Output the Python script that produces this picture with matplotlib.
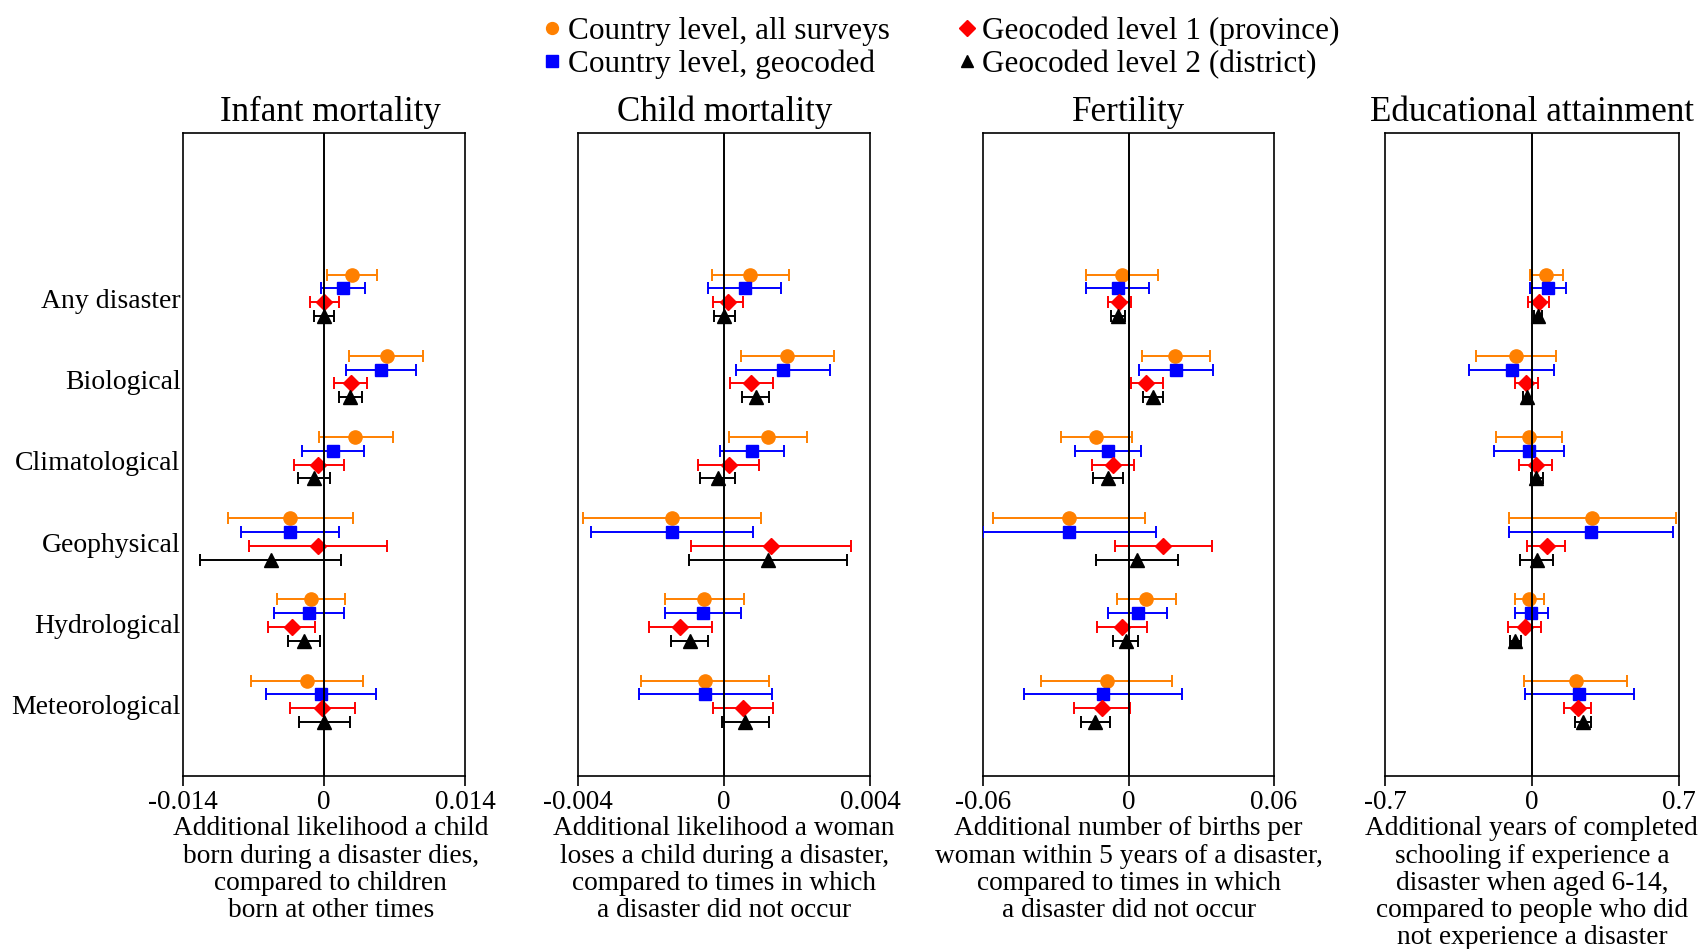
import numpy as np
import matplotlib
matplotlib.use('Agg')
import matplotlib.pyplot as plt
from matplotlib.lines import Line2D

plt.rcParams['font.family'] = ['Liberation Serif', 'DejaVu Serif']
plt.rcParams['axes.unicode_minus'] = False

#******************************************************************************************************
# data: rows = series (all surveys, geocoded, level 1, level 2), cols = categories
categories = ['Any disaster', 'Biological', 'Climatological', 'Geophysical', 'Hydrological', 'Meteorological']
series_names = ['Country level, all surveys', 'Country level, geocoded',
                'Geocoded level 1 (province)', 'Geocoded level 2 (district)']
panel_titles = ['Infant mortality', 'Child mortality', 'Fertility', 'Educational attainment']
panel_xlabels = ['Additional likelihood a child\nborn during a disaster dies,\ncompared to children\nborn at other times',
                 'Additional likelihood a woman\nloses a child during a disaster,\ncompared to times in which\na disaster did not occur',
                 'Additional number of births per\nwoman within 5 years of a disaster,\ncompared to times in which\na disaster did not occur',
                 'Additional years of completed\nschooling if experience a\ndisaster when aged 6-14,\ncompared to people who did\nnot experience a disaster']
panel_lims = [0.014, 0.004, 0.06, 0.7]
panel_ticklabels = [['-0.014', '0', '0.014'], ['-0.004', '0', '0.004'],
                    ['-0.06', '0', '0.06'], ['-0.7', '0', '0.7']]

infant_mid = [[0.0028, 0.0062, 0.0031, -0.0034, -0.0013, -0.0017],
              [0.0019, 0.0057, 0.0009, -0.0034, -0.0015, -0.0003],
              [0.0000, 0.0027, -0.0006, -0.0006, -0.0032, -0.0002],
              [0.0000, 0.0026, -0.0010, -0.0053, -0.0020, 0.0000]]
infant_lo = [[0.0003, 0.0025, -0.0005, -0.0096, -0.0047, -0.0073],
             [-0.0003, 0.0022, -0.0022, -0.0083, -0.0050, -0.0058],
             [-0.0014, 0.0010, -0.0030, -0.0075, -0.0056, -0.0034],
             [-0.0010, 0.0015, -0.0026, -0.0123, -0.0036, -0.0025]]
infant_hi = [[0.0053, 0.0098, 0.0068, 0.0029, 0.0021, 0.0039],
             [0.0041, 0.0091, 0.0040, 0.0015, 0.0020, 0.0052],
             [0.0015, 0.0043, 0.0020, 0.0062, -0.0009, 0.0031],
             [0.0010, 0.0038, 0.0006, 0.0017, -0.0004, 0.0026]]

child_mid = [[0.00072, 0.00173, 0.00121, -0.00143, -0.00055, -0.00052],
             [0.00056, 0.00162, 0.00076, -0.00143, -0.00058, -0.00052],
             [0.00011, 0.00075, 0.00012, 0.00128, -0.00120, 0.00051],
             [0.00000, 0.00086, -0.00018, 0.00121, -0.00095, 0.00058]]
child_lo = [[-0.00033, 0.00045, 0.00014, -0.00387, -0.00163, -0.00229],
            [-0.00043, 0.00033, -0.00011, -0.00364, -0.00161, -0.00233],
            [-0.00030, 0.00017, -0.00073, -0.00091, -0.00207, -0.00030],
            [-0.00027, 0.00048, -0.00066, -0.00097, -0.00147, -0.00005]]
child_hi = [[0.00178, 0.00302, 0.00227, 0.00102, 0.00054, 0.00124],
            [0.00155, 0.00291, 0.00163, 0.00080, 0.00046, 0.00130],
            [0.00051, 0.00133, 0.00096, 0.00348, -0.00034, 0.00133],
            [0.00030, 0.00124, 0.00030, 0.00337, -0.00044, 0.00122]]

fert_mid = [[-0.0026, 0.0193, -0.0133, -0.0246, 0.0072, -0.0091],
            [-0.0045, 0.0195, -0.0087, -0.0246, 0.0037, -0.0107],
            [-0.0039, 0.0073, -0.0065, 0.0143, -0.0028, -0.0110],
            [-0.0045, 0.0100, -0.0087, 0.0034, -0.0012, -0.0138]]
fert_lo = [[-0.0175, 0.0054, -0.0281, -0.0559, -0.0047, -0.0362],
           [-0.0176, 0.0044, -0.0222, -0.0600, -0.0084, -0.0432],
           [-0.0087, 0.0008, -0.0151, -0.0056, -0.0131, -0.0226],
           [-0.0074, 0.0061, -0.0149, -0.0135, -0.0063, -0.0198]]
fert_hi = [[0.0121, 0.0334, 0.0014, 0.0067, 0.0194, 0.0180],
           [0.0085, 0.0347, 0.0050, 0.0111, 0.0160, 0.0222],
           [0.0008, 0.0142, 0.0022, 0.0343, 0.0077, 0.0006],
           [-0.0017, 0.0142, -0.0025, 0.0202, 0.0039, -0.0076]]

edu_mid = [[0.068, -0.075, -0.014, 0.288, -0.013, 0.210],
           [0.075, -0.095, -0.013, 0.283, -0.003, 0.227],
           [0.033, -0.027, 0.019, 0.070, -0.035, 0.221],
           [0.027, -0.021, 0.021, 0.024, -0.078, 0.245]]
edu_lo = [[-0.008, -0.265, -0.170, -0.110, -0.081, -0.037],
          [-0.010, -0.299, -0.180, -0.108, -0.078, -0.032],
          [-0.019, -0.081, -0.059, -0.022, -0.116, 0.154],
          [0.008, -0.041, -0.005, -0.056, -0.102, 0.207]]
edu_hi = [[0.148, 0.116, 0.145, 0.685, 0.059, 0.454],
          [0.162, 0.106, 0.154, 0.672, 0.076, 0.486],
          [0.083, 0.029, 0.097, 0.160, 0.044, 0.284],
          [0.049, 0.003, 0.052, 0.103, -0.051, 0.284]]

#******************************************************************************************************
colors = ['#ff8000', '#0000ff', '#ff0000', '#000000']
markers = ['o', 's', 'D', '^']
msizes = [9.5, 9, 8.5, 9.5]
offsets = [-0.255, -0.085, 0.085, 0.255]
panels = [(infant_mid, infant_lo, infant_hi), (child_mid, child_lo, child_hi),
          (fert_mid, fert_lo, fert_hi), (edu_mid, edu_lo, edu_hi)]
ax_lefts = [183.3, 578.3, 983.3, 1385.0]
ax_rights = [465.0, 870.0, 1274.0, 1678.7]
title_x = [0.523, 0.5, 0.5, 0.5]
W, H = 1700., 949.
ax_top, ax_bot = 133.3, 776.0
serif = ['Liberation Serif', 'DejaVu Serif']

fig = plt.figure(figsize=(17, 9.49), dpi=100)
ypos = np.arange(len(categories))
for n, (mid, lo, hi) in enumerate(panels):
    ax = fig.add_axes([ax_lefts[n]/W, 1-ax_bot/H, (ax_rights[n]-ax_lefts[n])/W, (ax_bot-ax_top)/H])
    mid, lo, hi = np.array(mid), np.array(lo), np.array(hi)
    for s in range(4):
        xerr = np.vstack([mid[s]-lo[s], hi[s]-mid[s]])
        ax.errorbar(mid[s], ypos+offsets[s], xerr=xerr, fmt=markers[s], color=colors[s],
                    ms=msizes[s], mec=colors[s], elinewidth=1.4, capsize=4.5, capthick=1.4, zorder=3)
    ax.axvline(0, color='black', linewidth=1.4, zorder=4)
    lim = panel_lims[n]
    ax.set_xlim(-lim, lim)
    ax.set_ylim(5.921, -1.994)
    ax.set_xticks([-lim, 0, lim])
    ax.set_xticklabels(panel_ticklabels[n], family=serif)
    ax.tick_params(axis='x', direction='out', length=7, width=1.2, labelsize=19.5, pad=3)
    ax.set_title(panel_titles[n], fontsize=25.2, pad=9, x=title_x[n], family=serif)
    ax.set_xlabel(panel_xlabels[n], fontsize=19.7, labelpad=1, linespacing=1.12, family=serif)
    ax.xaxis.label.set_x(title_x[n])
    if n == 0:
        ax.set_yticks(ypos + 0.04)
        ax.set_yticklabels(categories, family=serif)
        ax.tick_params(axis='y', length=0, labelsize=20, pad=2)
    else:
        ax.set_yticks([])
    [sp.set_linewidth(1.2) for sp in ax.spines.values()]

handles = [Line2D([], [], linestyle='none', marker=markers[s], color=colors[s], ms=msizes[s]*0.9) for s in range(4)]
fig.legend(handles, series_names, ncol=2, loc='upper left', bbox_to_anchor=(529/W, 1-1/H),
           frameon=False, prop={'family': serif, 'size': 22.5}, handlelength=0.5, handletextpad=0.25,
           columnspacing=2.2, labelspacing=0.12, borderpad=0)

plt.savefig('out.png', dpi=100)
